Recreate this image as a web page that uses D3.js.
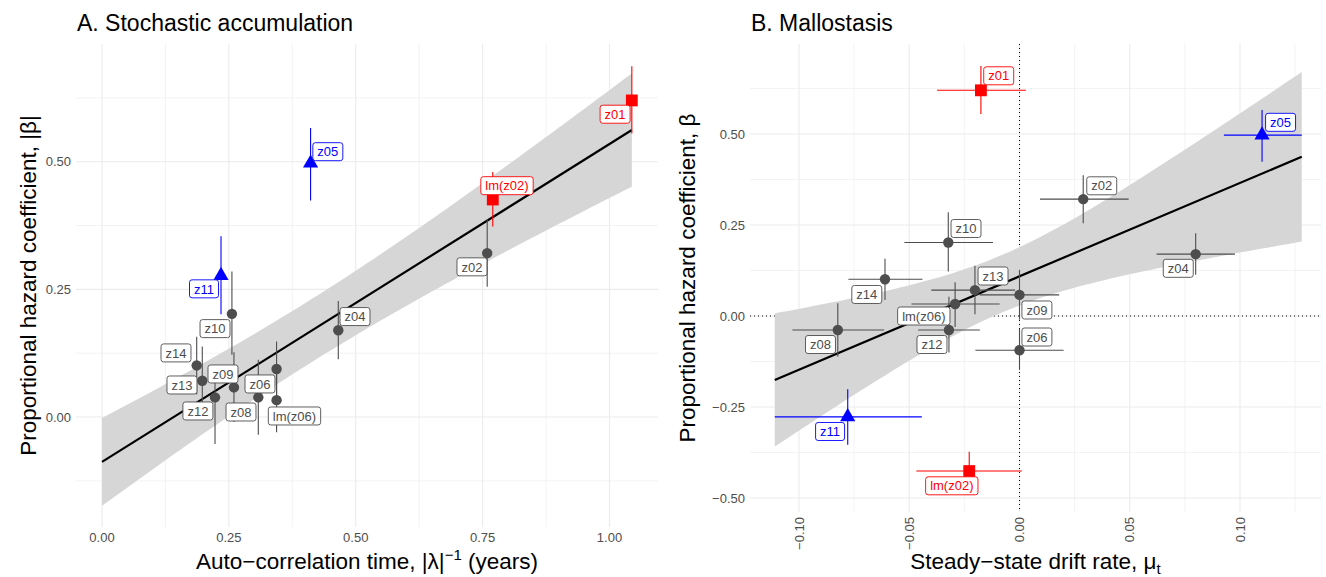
<!DOCTYPE html>
<html><head><meta charset="utf-8">
<script src="https://cdn.jsdelivr.net/npm/d3@7"></script>
<style>
body{margin:0;background:#fff}
text{font-family:"Liberation Sans",Arial,Helvetica,sans-serif}
</style></head>
<body><svg id="c" width="1326" height="577"></svg>
<script>
// ---------------- data ----------------
const ids     = ["z01","z05","lm(z02)","z02","z04","z10","z11","z14","z13","z12","z09","z08","z06","lm(z06)"];
const group   = ["sq","tri","sq","pt","pt","pt","tri","pt","pt","pt","pt","pt","pt","pt"];
// proportional hazard coefficient beta and 95% interval (panel B, signed)
const beta    = [0.620, 0.497, -0.426, 0.321, 0.170, 0.202, -0.277, 0.101, 0.071, -0.0385, 0.058, -0.0385, -0.094, 0.033];
const betaLo  = [0.555, 0.424, -0.480, 0.255, 0.113, 0.122, -0.354, 0.044, 0.005, -0.100, -0.010, -0.112, -0.148, -0.030];
const betaHi  = [0.687, 0.566, -0.373, 0.387, 0.227, 0.285, -0.201, 0.157, 0.138, 0.053, 0.127, 0.035, -0.035, 0.093];
// auto-correlation time |lambda|^-1 (panel A)
const tauA    = [1.044, 0.411, 0.770, 0.759, 0.4656, 0.256, 0.2345, 0.1866, 0.1976, 0.2227, 0.260, 0.308, 0.344, 0.344];
// steady-state drift rate mu_t and interval (panel B)
const mu      = [-0.0175, 0.110, -0.0228, 0.0289, 0.0799, -0.0323, -0.0779, -0.061, -0.0202, -0.032, 0.0, -0.0824, 0.0, -0.0292];
const muLo    = [-0.0374, 0.0927, -0.0468, 0.0093, 0.0622, -0.0522, -0.111, -0.0776, -0.040, -0.046, -0.018, -0.103, -0.020, -0.049];
const muHi    = [0.0029, 0.128, 0.0011, 0.0495, 0.0977, -0.012, -0.0443, -0.044, -0.002, -0.018, 0.018, -0.0614, 0.020, -0.009];
// repelled label anchors (data units)
const labAx   = [1.011, 0.445, 0.798, 0.729, 0.4985, 0.2227, 0.201, 0.1458, 0.1576, 0.189, 0.2384, 0.2739, 0.3113, 0.3793];
const labAy   = [0.593, 0.5196, 0.453, 0.2941, 0.1967, 0.1731, 0.251, 0.1255, 0.0627, 0.0118, 0.0843, 0.0098, 0.0647, 0.002];
const labBx   = [-0.00943, 0.1184, -0.0307, 0.0373, 0.072, -0.02426, -0.0859, -0.06925, -0.012, -0.0397, 0.0079, -0.09025, 0.0079, -0.0434];
const labBy   = [0.6599, 0.5321, -0.4665, 0.3577, 0.131, 0.2404, -0.3173, 0.0591, 0.1099, -0.0783, 0.0165, -0.0783, -0.0577, 0.0];
// linear fits: [intercept, slope, xCentre, minHalfWidth, halfWidthSlope, xFrom, xTo]
const fitA    = [-0.088, 0.6226, 0.411, 0.0618, 0.1456, 0.0, 1.044];
const fitB    = [0.109, 2.565, -0.0083, 0.079, 1.608, -0.111, 0.128];
// ticks
const ticksAx = [0, 0.25, 0.5, 0.75, 1.0];
const ticksAy = [0, 0.25, 0.5];
const ticksBx = [-0.10, -0.05, 0, 0.05, 0.10];
const ticksBy = [-0.50, -0.25, 0, 0.25, 0.50];

// ---------------- layout ----------------
const svg = d3.select("#c");
const colour = d3.scaleOrdinal().domain(["sq","tri","pt"]).range(["#FF0000","#0000FF","#4D4D4D"]);
const symType = d3.scaleOrdinal().domain(["sq","tri","pt"]).range([d3.symbolSquare,d3.symbolTriangle,d3.symbolCircle]);
const symSize = d3.scaleOrdinal().domain(["sq","tri","pt"]).range([140,100,85]);
const fmt = d3.format(".2f");
const minus = s => s.replace("-","\u2212");
const TICK = "13px", ATITLE = "22.5px";

const A = {left:76, right:658, top:44, bottom:527};
const B = {left:750, right:1321, top:44, bottom:512};
const xA = d3.scaleLinear().domain([0,1]).range([102,609.5]);
const yA = d3.scaleLinear().domain([0,0.5]).range([417,161.7]);
const xB = d3.scaleLinear().domain([0,0.1]).range([1019.5,1240]);
const yB = d3.scaleLinear().domain([0,0.5]).range([316,134]);

function grid(g, P, x, y, xt, yt){
  const step = xt[1]-xt[0], ystep = yt[1]-yt[0];
  const xmin = d3.range(xt[0]-step*1.5, xt[xt.length-1]+step, step).filter(v=>{const p=x(v);return p>P.left&&p<P.right;});
  const ymin = d3.range(yt[0]-ystep*1.5, yt[yt.length-1]+ystep, ystep).filter(v=>{const p=y(v);return p>P.top&&p<P.bottom;});
  xmin.forEach(v=>g.append("line").attr("x1",x(v)).attr("x2",x(v)).attr("y1",P.top).attr("y2",P.bottom).attr("stroke","#EBEBEB").attr("stroke-width",0.6));
  ymin.forEach(v=>g.append("line").attr("x1",P.left).attr("x2",P.right).attr("y1",y(v)).attr("y2",y(v)).attr("stroke","#EBEBEB").attr("stroke-width",0.6));
  xt.forEach(v=>g.append("line").attr("x1",x(v)).attr("x2",x(v)).attr("y1",P.top).attr("y2",P.bottom).attr("stroke","#EBEBEB").attr("stroke-width",1.1));
  yt.forEach(v=>g.append("line").attr("x1",P.left).attr("x2",P.right).attr("y1",y(v)).attr("y2",y(v)).attr("stroke","#EBEBEB").attr("stroke-width",1.1));
}

function band(g, fit, x, y){
  const [a,b,xc,h0,k,x0,x1] = fit;
  const xs = d3.range(0,81).map(i=>x0+(x1-x0)*i/80);
  const hw = v=>Math.sqrt(h0*h0+k*k*(v-xc)*(v-xc));
  g.append("path").datum(xs)
    .attr("d", d3.area().x(v=>x(v)).y0(v=>y(a+b*v-hw(v))).y1(v=>y(a+b*v+hw(v))))
    .attr("fill","#D6D6D6");
  g.append("path").datum([x0,x1])
    .attr("d", d3.line().x(v=>x(v)).y(v=>y(a+b*v)))
    .attr("stroke","#000").attr("stroke-width",2.2).attr("fill","none");
}

function label(g, cx, cy, txt, col){
  const lg = g.append("g");
  const r = lg.append("rect");
  const t = lg.append("text").attr("x",cx).attr("y",cy).attr("dy","0.36em")
    .attr("text-anchor","middle").attr("fill",col).style("font-size","13px").text(txt);
  const w = t.node().getComputedTextLength();
  r.attr("x",cx-w/2-4.5).attr("y",cy-9).attr("width",w+9).attr("height",18).attr("rx",2.5)
   .attr("fill","#fff").attr("stroke",col).attr("stroke-width",0.9);
}

function points(g, xs, ys){
  ids.forEach((id,i)=>{
    g.append("path").attr("transform",`translate(${xs[i]},${ys[i]})`)
     .attr("d", d3.symbol().type(symType(group[i])).size(symSize(group[i]))())
     .attr("fill",colour(group[i]));
  });
}

// ================= Panel A =================
const gA = svg.append("g");
grid(gA, A, xA, yA, ticksAx, ticksAy);
band(gA, fitA, xA, yA);
const absLo = beta.map((b,i)=> b<0 ? -betaHi[i] : betaLo[i]);
const absHi = beta.map((b,i)=> b<0 ? -betaLo[i] : betaHi[i]);
ids.forEach((id,i)=>{
  gA.append("line").attr("x1",xA(tauA[i])).attr("x2",xA(tauA[i]))
    .attr("y1",yA(absLo[i])).attr("y2",yA(absHi[i]))
    .attr("stroke",colour(group[i])).attr("stroke-width",1.1);
});
points(gA, tauA.map(xA), beta.map(b=>yA(Math.abs(b))));
ids.forEach((id,i)=>label(gA, xA(labAx[i]), yA(labAy[i]), id, colour(group[i])));

ticksAx.forEach(v=>gA.append("text").attr("x",xA(v)).attr("y",A.bottom+15).attr("text-anchor","middle")
  .attr("fill","#4D4D4D").style("font-size",TICK).text(fmt(v)));
ticksAy.forEach(v=>gA.append("text").attr("x",A.left-5).attr("y",yA(v)).attr("dy","0.35em").attr("text-anchor","end")
  .attr("fill","#4D4D4D").style("font-size",TICK).text(fmt(v)));
gA.append("text").attr("x",A.left+1).attr("y",31).style("font-size","23px").attr("fill","#000").text("A. Stochastic accumulation");
const tAx = gA.append("text").attr("x",(A.left+A.right)/2).attr("y",569).attr("text-anchor","middle").style("font-size",ATITLE).attr("fill","#000");
tAx.append("tspan").text("Auto\u2212correlation time, |\u03BB|");
tAx.append("tspan").attr("dy",-9).style("font-size","15px").text("\u22121");
tAx.append("tspan").attr("dy",9).text(" (years)");
gA.append("text").attr("transform",`translate(36,${(A.top+A.bottom)/2}) rotate(-90)`).attr("text-anchor","middle")
  .style("font-size",ATITLE).attr("fill","#000").text("Proportional hazard coefficient, |\u03B2|");

// ================= Panel B =================
const gB = svg.append("g");
grid(gB, B, xB, yB, ticksBx, ticksBy);
gB.append("line").attr("x1",xB(0)).attr("x2",xB(0)).attr("y1",B.top).attr("y2",B.bottom)
  .attr("stroke","#000").attr("stroke-width",1).attr("stroke-dasharray","1,3");
gB.append("line").attr("x1",B.left).attr("x2",B.right).attr("y1",yB(0)).attr("y2",yB(0))
  .attr("stroke","#000").attr("stroke-width",1).attr("stroke-dasharray","1,3");
band(gB, fitB, xB, yB);
ids.forEach((id,i)=>{
  gB.append("line").attr("x1",xB(mu[i])).attr("x2",xB(mu[i]))
    .attr("y1",yB(betaLo[i])).attr("y2",yB(betaHi[i]))
    .attr("stroke",colour(group[i])).attr("stroke-width",1.1);
  gB.append("line").attr("x1",xB(muLo[i])).attr("x2",xB(muHi[i]))
    .attr("y1",yB(beta[i])).attr("y2",yB(beta[i]))
    .attr("stroke",colour(group[i])).attr("stroke-width",1.1);
});
points(gB, mu.map(xB), beta.map(yB));
ids.forEach((id,i)=>label(gB, xB(labBx[i]), yB(labBy[i]), id, colour(group[i])));

ticksBx.forEach(v=>gB.append("text").attr("transform",`translate(${xB(v)},${B.bottom+5}) rotate(-90)`)
  .attr("dy","0.35em").attr("text-anchor","end").attr("fill","#4D4D4D").style("font-size",TICK).text(minus(fmt(v))));
ticksBy.forEach(v=>gB.append("text").attr("x",B.left-5).attr("y",yB(v)).attr("dy","0.35em").attr("text-anchor","end")
  .attr("fill","#4D4D4D").style("font-size",TICK).text(minus(fmt(v))));
gB.append("text").attr("x",B.left+1).attr("y",31).style("font-size","23px").attr("fill","#000").text("B. Mallostasis");
const tBx = gB.append("text").attr("x",(B.left+B.right)/2).attr("y",569).attr("text-anchor","middle").style("font-size",ATITLE).attr("fill","#000");
tBx.append("tspan").text("Steady\u2212state drift rate, \u03BC");
tBx.append("tspan").attr("dy",5).style("font-size","15px").text("t");
gB.append("text").attr("transform",`translate(695,${(B.top+B.bottom)/2}) rotate(-90)`).attr("text-anchor","middle")
  .style("font-size",ATITLE).attr("fill","#000").text("Proportional hazard coefficient, \u03B2");
</script></body></html>
